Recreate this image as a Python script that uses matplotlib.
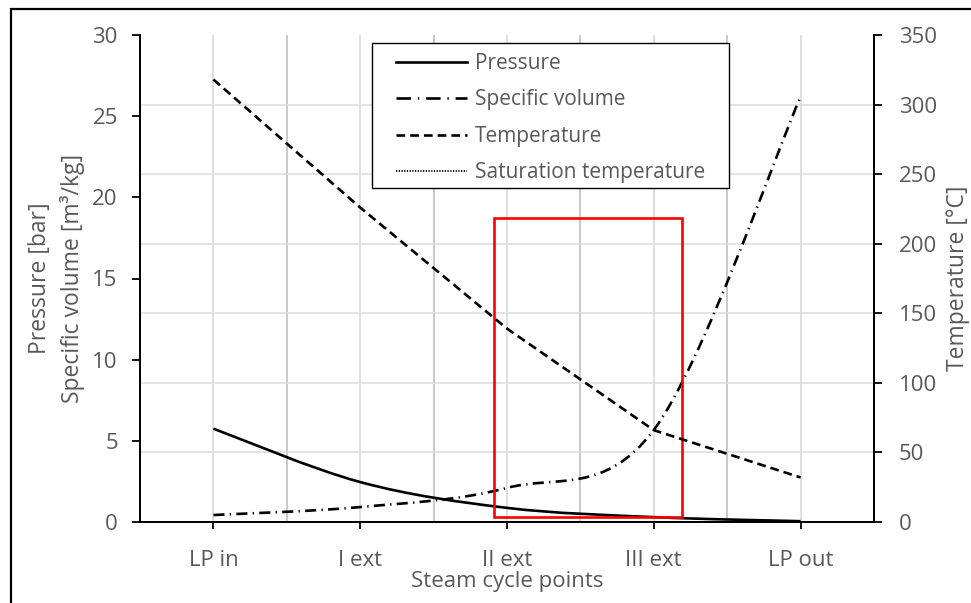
import numpy as np
import matplotlib
matplotlib.use('Agg')
import matplotlib.pyplot as plt
from matplotlib.path import Path
from matplotlib.patches import PathPatch, Rectangle
from matplotlib.lines import Line2D

plt.rcParams['font.family'] = ['Open Sans', 'DejaVu Sans']

# data
points          = ['LP in', 'I ext', 'II ext', 'III ext', 'LP out']
pressure        = [5.75, 2.46, 0.87, 0.30, 0.05]     # bar
spec_volume     = [0.43, 0.92, 2.10, 5.67, 26.2]     # m3/kg
temperature     = [318, 226, 139, 66, 32]            # degC
sat_temperature = [0, 0, 0, 0, 0]                    # degC

p_ticks = [0, 5, 10, 15, 20, 25, 30]
t_ticks = [0, 50, 100, 150, 200, 250, 300, 350]

# highlighted region (category units / left axis units)
box_x = (1.91, 3.19)
box_y = (0.31, 18.73)

grey = '#595959'


def smooth_path(x, y):
    # excel-like smoothed line: cubic bezier segments, catmull-rom tangents
    pts = np.column_stack([x, y]).astype(float)
    ext = np.vstack([pts[0], pts, pts[-1]])
    verts = [pts[0]]; codes = [Path.MOVETO]
    for i in range(len(pts) - 1):
        p0, p1, p2, p3 = ext[i], ext[i+1], ext[i+2], ext[i+3]
        verts += [p1 + (p2 - p0) / 6, p2 - (p3 - p1) / 6, p2]
        codes += [Path.CURVE4] * 3
    return Path(verts, codes)


lw = 1.9
ls_press = '-'
ls_vol   = (0, (4.2, 2.0, 0.5, 2.0))
ls_temp  = (0, (3.3, 1.9))
ls_sat   = (0, (0.7, 0.8))

fig = plt.figure(figsize=(9.71, 6.03), dpi=100)
ax = fig.add_axes([140/971, 1-522/603, 734/971, 487/603])
ax2 = ax.twinx()

x = np.arange(len(points))

ax.add_patch(PathPatch(smooth_path(x, pressure), fill=False, lw=lw, color='black', linestyle=ls_press, zorder=3))
ax.add_patch(PathPatch(smooth_path(x, spec_volume), fill=False, lw=lw, color='black', linestyle=ls_vol, zorder=3))
ax2.plot(x, temperature, color='black', lw=lw, linestyle=ls_temp, zorder=3)
ax2.plot(x, sat_temperature, color='black', lw=1.3, linestyle=ls_sat, zorder=3)

ax.add_patch(Rectangle((box_x[0], box_y[0]), box_x[1]-box_x[0], box_y[1]-box_y[0],
                       fill=False, edgecolor='#ff0000', lw=1.9, zorder=4))

ax.set_xlim(-0.5, len(points) - 0.5)
ax.set_ylim(0, 30)
ax2.set_ylim(0, 350)

ax.set_xticks(x)
ax.set_xticklabels(points)
ax.set_xticks(x[:-1] + 0.5, minor=True)
ax.set_yticks(p_ticks)
ax.set_yticks(np.linspace(0, 30, len(t_ticks)), minor=True)
ax2.set_yticks(t_ticks)

# gridlines
ax.set_axisbelow(True)
ax.grid(which='major', axis='x', color='#d9d9d9', lw=1.2)
ax.grid(which='minor', axis='x', color='#bfbfbf', lw=1.2)
ax.grid(which='minor', axis='y', color='#dedede', lw=1.2)

for a in (ax, ax2):
    a.spines['top'].set_visible(False)
    for s in ('left', 'right', 'bottom'):
        a.spines[s].set_color('black')
        a.spines[s].set_linewidth(1.3)

ax.tick_params(axis='x', which='major', direction='out', length=5, width=1.3, pad=15, labelsize=16, labelcolor=grey)
ax.tick_params(axis='x', which='minor', length=0)
ax.tick_params(axis='y', which='major', direction='out', length=6, width=1.3, pad=10, labelsize=16, labelcolor=grey)
ax.tick_params(axis='y', which='minor', length=0)
ax2.tick_params(axis='y', direction='out', length=6, width=1.3, pad=12, labelsize=16, labelcolor=grey)

ax.set_xlabel('Steam cycle points', fontsize=16, color=grey, labelpad=0)
ax.set_ylabel('Pressure [bar]\nSpecific volume [m³/kg]', fontsize=16.5, color=grey, labelpad=5, linespacing=1.45)
ax2.set_ylabel('Temperature [°C]', fontsize=16.5, color=grey, labelpad=6)

# legend: frame drawn separately so its padding can follow the original
ax2.add_patch(Rectangle((232/734, 334/487), 357/734, 145/487, transform=ax2.transAxes,
                        facecolor='white', edgecolor='black', lw=1.0, zorder=4.9))
handles = [
    Line2D([], [], color='black', lw=lw, linestyle=ls_press),
    Line2D([], [], color='black', lw=lw, linestyle=(0, (5.5, 2.6, 0.5, 2.6))),
    Line2D([], [], color='black', lw=lw, linestyle=ls_temp),
    Line2D([], [], color='black', lw=1.3, linestyle=ls_sat),
]
labels = ['Pressure', 'Specific volume', 'Temperature', 'Saturation temperature']
leg = ax2.legend(handles, labels, loc='upper left', bbox_to_anchor=(256/734, 469/487),
                 fontsize=15, handlelength=3.4, handletextpad=0.4, labelspacing=0.74,
                 borderpad=0, borderaxespad=0, frameon=False)
leg.set_zorder(5)
for t in leg.get_texts():
    t.set_color(grey)

# outer frame of the picture
fig.add_artist(Rectangle((11/971, -0.05), 1.2, 1.05 - 9/603, transform=fig.transFigure,
                         fill=False, edgecolor='black', lw=1.6, clip_on=False))

fig.savefig('out.png', dpi=100)
